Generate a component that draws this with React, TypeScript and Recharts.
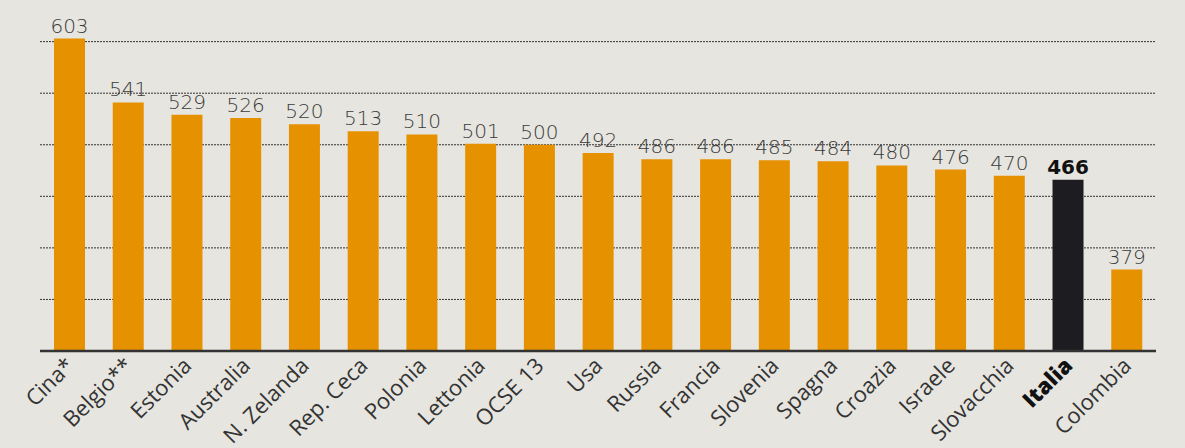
import React from 'react'
import { Bar, BarChart, CartesianGrid, Cell, LabelList, XAxis, YAxis } from 'recharts'

const countries = ['Cina*', 'Belgio**', 'Estonia', 'Australia', 'N. Zelanda', 'Rep. Ceca', 'Polonia', 'Lettonia', 'OCSE 13', 'Usa', 'Russia', 'Francia', 'Slovenia', 'Spagna', 'Croazia', 'Israele', 'Slovacchia', 'Italia', 'Colombia']
const scores = [603, 541, 529, 526, 520, 513, 510, 501, 500, 492, 486, 486, 485, 484, 480, 476, 470, 466, 379]
const gridTicks = [350, 400, 450, 500, 550, 600]
const highlight = 'Italia'

const data = countries.map((name, i) => ({ name, score: scores[i] }))

const ORANGE = '#e69200'
const DARK = '#1d1d21'
const BG = '#e6e5df'

type TickProps = {
    payload?: { value: string }
    x?: number
    y?: number
}

// rotated country names under the axis
const CountryTick: React.FC<TickProps> = ({ x = 0, y = 0, payload }) => {
    const label = payload ? payload.value : ''
    const bold = label === highlight
    const px = x + 6
    const py = y + 16
    return (
        <text
            fill={bold ? '#111' : '#333'}
            fontFamily="Open Sans"
            fontSize={22}
            fontWeight={bold ? 800 : 400}
            textAnchor="end"
            transform={`rotate(-45, ${px}, ${py})`}
            x={px}
            y={py}
        >
            {label}
        </text>
    )
}

type ValueLabelProps = {
    index?: number
    value?: number | string
    width?: number | string
    x?: number | string
    y?: number | string
}

const ValueLabel: React.FC<ValueLabelProps> = ({ x, y, width, value, index }) => {
    const bold = index !== undefined && countries[index] === highlight
    return (
        <text
            fill={bold ? '#111' : '#3a3a3a'}
            fontFamily="DejaVu Sans"
            fontSize={20}
            fontWeight={bold ? 700 : 200}
            textAnchor="middle"
            x={Number(x) + Number(width) / 2}
            y={Number(y) - 6}
        >
            {value}
        </text>
    )
}

// gridlines only at the chosen score levels
const gridAt = (props: any) => {
    const scale = props?.yAxis?.scale
    if (typeof scale === 'function') return gridTicks.map((t) => scale(t))
    if (scale && typeof scale.map === 'function') return gridTicks.map((t) => scale.map(t))
    return []
}

export default function App() {
    return (
        <div style={{ background: BG, height: 448, left: 0, position: 'absolute', top: 0, width: 1185 }}>
            <BarChart data={data} height={448} margin={{ bottom: 0, left: 40, right: 29, top: 21 }} width={1185}>
                <CartesianGrid
                    horizontalCoordinatesGenerator={gridAt}
                    stroke="#333"
                    strokeDasharray="2 1"
                    strokeWidth={1}
                    vertical={false}
                />
                <YAxis domain={[300, 620]} hide ticks={gridTicks} type="number" />
                <XAxis
                    axisLine={{ stroke: '#333', strokeWidth: 2.5 }}
                    dataKey="name"
                    height={97}
                    interval={0}
                    tick={<CountryTick />}
                    tickLine={false}
                    tickMargin={0}
                    tickSize={0}
                />
                <Bar barSize={31} dataKey="score" isAnimationActive={false}>
                    {data.map((d) => (
                        <Cell fill={d.name === highlight ? DARK : ORANGE} key={d.name} />
                    ))}
                    <LabelList content={<ValueLabel />} dataKey="score" />
                </Bar>
            </BarChart>
        </div>
    )
}
